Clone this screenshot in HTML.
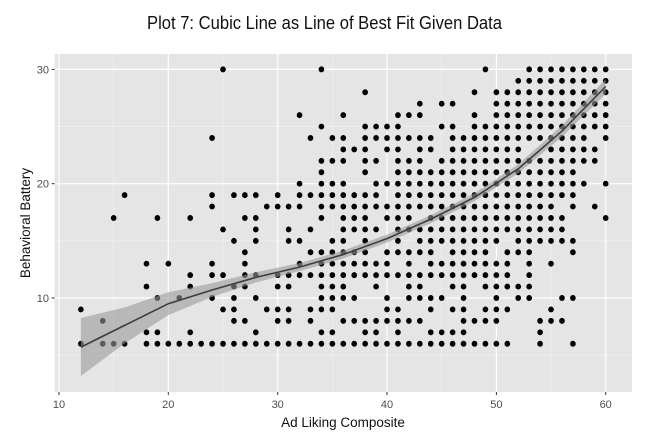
<!DOCTYPE html>
<html><head><meta charset="utf-8"><style>
html,body{margin:0;padding:0;background:#fff;}
svg{display:block;font-family:"Liberation Sans",sans-serif;}
</style></head><body>
<svg width="650" height="446" viewBox="0 0 650 446" xmlns="http://www.w3.org/2000/svg">
<rect width="650" height="446" fill="#fff"/>
<text x="324.5" y="29" font-size="18" text-anchor="middle" fill="#111" textLength="355" lengthAdjust="spacingAndGlyphs">Plot 7: Cubic Line as Line of Best Fit Given Data</text>
<rect x="54.6" y="54" width="577.4" height="338" fill="#e5e5e5"/>
<g stroke="#f4f4f4" stroke-width="0.6">
<line x1="113.7" y1="54" x2="113.7" y2="392"/><line x1="223" y1="54" x2="223" y2="392"/><line x1="332.3" y1="54" x2="332.3" y2="392"/><line x1="441.7" y1="54" x2="441.7" y2="392"/><line x1="551" y1="54" x2="551" y2="392"/>
<line x1="54.6" y1="355.2" x2="632" y2="355.2"/><line x1="54.6" y1="240.9" x2="632" y2="240.9"/><line x1="54.6" y1="126.6" x2="632" y2="126.6"/>
</g>
<g stroke="#fff" stroke-width="1.2">
<line x1="59" y1="54" x2="59" y2="392"/><line x1="168.3" y1="54" x2="168.3" y2="392"/><line x1="277.7" y1="54" x2="277.7" y2="392"/><line x1="387" y1="54" x2="387" y2="392"/><line x1="496.4" y1="54" x2="496.4" y2="392"/><line x1="605.7" y1="54" x2="605.7" y2="392"/>
<line x1="54.6" y1="298" x2="632" y2="298"/><line x1="54.6" y1="183.7" x2="632" y2="183.7"/><line x1="54.6" y1="69.4" x2="632" y2="69.4"/>
</g>
<g transform="matrix(10.934 0 0 -11.43 -50.34 412.3)" fill="none" stroke="#000" stroke-width="0.52" stroke-linecap="round" stroke-dasharray="0 1">
<path d="M25 30H25.01M34 30H34.01M49 30H49.01M53 30H60.01"/>
<path d="M52 29H60.01"/>
<path d="M38 28H38.01M48 28H48.01M50 28H60.01"/>
<path d="M43 27H43.01M45 27H46.01M50 27H60.01"/>
<path d="M32 26H32.01M36 26H36.01M41 26H43.01M48 26H48.01M50 26H60.01"/>
<path d="M34 25H34.01M38 25H41.01M45 25H46.01M48 25H60.01"/>
<path d="M24 24H24.01M33 24H33.01M35 24H36.01M38 24H44.01M46 24H58.01M60 24H60.01"/>
<path d="M36 23H38.01M40 23H41.01M43 23H44.01M46 23H52.01M55 23H59.01"/>
<path d="M34 22H36.01M38 22H39.01M41 22H43.01M45 22H59.01"/>
<path d="M34 21H34.01M38 21H38.01M41 21H57.01"/>
<path d="M32 20H32.01M34 20H36.01M39 20H58.01M60 20H60.01"/>
<path d="M16 19H16.01M24 19H24.01M26 19H28.01M30 19H30.01M32 19H39.01M41 19H57.01"/>
<path d="M24 18H24.01M29 18H32.01M34 18H55.01M57 18H57.01M59 18H59.01"/>
<path d="M15 17H15.01M19 17H19.01M22 17H22.01M27 17H28.01M34 17H34.01M36 17H38.01M40 17H42.01M44 17H56.01M60 17H60.01"/>
<path d="M25 16H25.01M28 16H28.01M31 16H31.01M33 16H33.01M36 16H39.01M41 16H56.01"/>
<path d="M26 15H26.01M28 15H28.01M31 15H32.01M35 15H36.01M38 15H38.01M41 15H41.01M43 15H50.01M52 15H57.01"/>
<path d="M27 14H27.01M33 14H38.01M40 14H44.01M46 14H49.01M51 14H53.01M57 14H57.01"/>
<path d="M18 13H18.01M20 13H20.01M24 13H24.01M27 13H27.01M32 13H32.01M34 13H40.01M42 13H42.01M44 13H51.01M53 13H53.01M55 13H55.01"/>
<path d="M22 12H22.01M24 12H25.01M27 12H28.01M30 12H51.01M53 12H53.01"/>
<path d="M18 11H18.01M22 11H22.01M26 11H27.01M30 11H31.01M34 11H36.01M39 11H39.01M42 11H43.01M46 11H47.01M49 11H53.01"/>
<path d="M19 10H19.01M21 10H21.01M24 10H24.01M26 10H26.01M28 10H28.01M34 10H37.01M40 10H40.01M42 10H45.01M47 10H47.01M50 10H50.01M52 10H53.01M56 10H57.01"/>
<path d="M12 9H12.01M25 9H26.01M29 9H31.01M33 9H35.01M40 9H41.01M44 9H44.01M46 9H47.01M49 9H51.01M55 9H55.01"/>
<path d="M14 8H14.01M26 8H27.01M30 8H31.01M33 8H33.01M36 8H43.01M47 8H50.01M54 8H56.01"/>
<path d="M18 7H19.01M22 7H22.01M28 7H28.01M34 7H35.01M38 7H39.01M41 7H41.01M44 7H47.01M54 7H54.01"/>
<path d="M12 6H12.01M14 6H16.01M18 6H51.01M54 6H54.01M57 6H57.01"/>
</g>
<polygon fill="#9a9a9a" fill-opacity="0.6" points="80.9,318 124.6,307.4 168.3,292.3 212.1,283.1 255.8,272.3 299.5,263.1 343.3,250.5 387,234.6 430.8,215.1 474.5,193.4 518.2,164.2 562,125.4 605.7,79.1 605.7,93.9 562,136.8 518.2,173.4 474.5,201.4 430.8,223.1 387,242.6 343.3,258.5 299.5,271.1 255.8,282.5 212.1,296.9 168.3,315.1 124.6,343.4 80.9,376"/>
<polyline fill="none" stroke="#3d3d3d" stroke-width="1.6" points="80.9,347.1 124.6,325.4 168.3,303.7 212.1,290 255.8,277.4 299.5,267.1 343.3,254.5 387,238.6 430.8,219.1 474.5,197.4 518.2,168.8 562,131.1 605.7,86.5"/>
<g stroke="#333" stroke-width="1">
<line x1="51.6" y1="298" x2="54.6" y2="298"/><line x1="51.6" y1="183.7" x2="54.6" y2="183.7"/><line x1="51.6" y1="69.4" x2="54.6" y2="69.4"/>
<line x1="59" y1="392" x2="59" y2="395"/><line x1="168.3" y1="392" x2="168.3" y2="395"/><line x1="277.7" y1="392" x2="277.7" y2="395"/><line x1="387" y1="392" x2="387" y2="395"/><line x1="496.4" y1="392" x2="496.4" y2="395"/><line x1="605.7" y1="392" x2="605.7" y2="395"/>
</g>
<g font-size="11" fill="#4d4d4d">
<text x="49" y="302" text-anchor="end">10</text><text x="49" y="187.7" text-anchor="end">20</text><text x="49" y="73.4" text-anchor="end">30</text>
<text x="59" y="408" text-anchor="middle">10</text><text x="168.3" y="408" text-anchor="middle">20</text><text x="277.7" y="408" text-anchor="middle">30</text><text x="387" y="408" text-anchor="middle">40</text><text x="496.4" y="408" text-anchor="middle">50</text><text x="605.7" y="408" text-anchor="middle">60</text>
</g>
<text x="343" y="427" font-size="13.5" text-anchor="middle" fill="#111">Ad Liking Composite</text>
<text transform="translate(30 223) rotate(-90)" font-size="13.5" text-anchor="middle" fill="#111">Behavioral Battery</text>
</svg>
</body></html>
